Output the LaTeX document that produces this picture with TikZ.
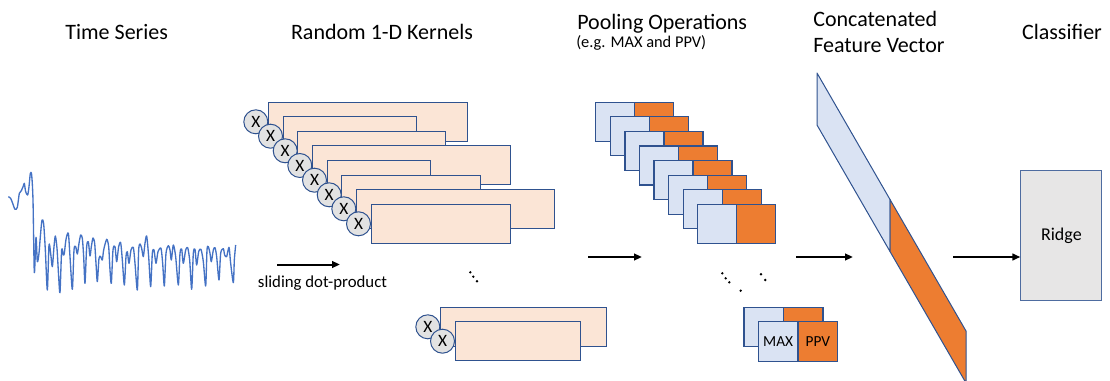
\documentclass[tikz,border=0pt]{standalone}
\usepackage{fontspec}
\setmainfont{Carlito}
\usetikzlibrary{arrows.meta}

\definecolor{edgeblue}{HTML}{2F528F}
\definecolor{kernelfill}{HTML}{FBE5D6}
\definecolor{poolblue}{HTML}{DAE3F3}
\definecolor{poolorange}{HTML}{ED7D31}
\definecolor{dotgray}{HTML}{E2E2E2}
\definecolor{ridgegray}{HTML}{E7E6E6}
\definecolor{seriesblue}{HTML}{4472C4}

\tikzset{
  title/.style={font=\fontsize{16.5}{19}\selectfont, anchor=base, inner sep=0pt},
  subtitle/.style={font=\fontsize{12.3}{14}\selectfont, anchor=base west, inner sep=0pt},
  kernelbox/.style={draw=edgeblue, fill=kernelfill, line width=0.75pt},
  mulnode/.style={circle, draw=edgeblue, fill=dotgray, line width=0.75pt,
    minimum size=18pt, inner sep=0pt, font=\fontsize{13}{14}\selectfont},
  maxbox/.style={draw=edgeblue, fill=poolblue, line width=0.9pt},
  ppvbox/.style={draw=edgeblue, fill=poolorange, line width=0.9pt},
  flow/.style={line width=1.5pt, -{Triangle[length=6pt,width=5pt]}},
  ell/.style={fill=black, circle, inner sep=0pt, minimum size=2pt},
}

\begin{document}
\begin{tikzpicture}[x=0.75pt, y=-0.75pt]
\useasboundingbox (0,0) rectangle (1110,381);
\clip (0,0) rectangle (1110,381);

% stage headings
\node[title] (tTS) at (116.7,40) {Time Series};
\node[title] (tRK) at (382,40) {Random 1-D Kernels};
\node[title, anchor=base west] (tPO) at (577,29.5) {Pooling Operations};
\node[subtitle] (tPOsub) at (576,47.5) {(e.g. MAX and PPV)};
\node[title, anchor=base west] (tCF1) at (813,26.7) {Concatenated};
\node[title, anchor=base west] (tCF2) at (813,52.7) {Feature Vector};
\node[title] (tCL) at (1062,40) {Classifier};

% input time series
\begin{scope}[shift={(0,150)}, xscale=1/3, yscale=1/3]
\draw[seriesblue, line width=1pt, line join=round] plot[smooth, tension=0.45] coordinates {
(25,140) (32,145) (38,160) (45,178) (52,172) (58,130) (64,122) (70,108) (73,100)
(77,125) (83,135) (87,110) (91,70) (95,75) (99,150) (103,368) (108,262) (112,335)
(117,310) (121,260) (126,210) (131,222) (136,300) (142,420) (147,285) (152,310)
(157,350) (162,290) (166,258) (171,295) (176,380) (180,428) (185,300) (190,315)
(193,310) (198,268) (205,250) (210,320) (217,418) (222,300) (227,290) (232,312)
(237,280) (242,255) (247,265) (251,320) (255,400) (260,290) (265,275) (270,318)
(274,290) (279,264) (284,280) (288,340) (292,395) (297,325) (302,320) (307,330)
(311,300) (320,268) (326,290) (330,360) (334,400) (339,300) (345,290) (350,335)
(356,290) (362,278) (367,330) (373,405) (378,320) (382,305) (387,340) (393,300)
(400,292) (405,340) (412,420) (416,300) (420,282) (425,295) (430,320) (435,280)
(440,258) (446,320) (452,410) (457,310) (462,300) (468,340) (474,305) (483,295)
(488,340) (493,408) (498,310) (505,287) (510,300) (514,330) (520,285) (527,320)
(535,405) (540,310) (545,297) (550,340) (557,300) (563,293) (569,330) (575,418)
(580,310) (585,298) (590,345) (596,305) (603,298) (610,335) (617,408) (621,300)
(625,290) (630,310) (634,335) (640,300) (645,293) (650,320) (657,390) (662,310)
(670,296) (674,315) (680,320) (687,292) (692,340) (700,398) (703,330) (707,285)};
\end{scope}

% stack of random kernels, each with its multiplication marker
\foreach \l/\t/\r [count=\i] in {268.3/102.3/467.3, 283/116.7/416, 297.7/131.3/445,
    312.3/146/510.7, 327/160.7/430, 341.7/175.3/480, 356.3/189.3/554.3, 371/204.3/510.7} {
  \draw[kernelbox] (\l,\t) rectangle (\r,\t+39);
  \node[mulnode] (k\i) at (\l-12.5,\t+19.5) {X};
}

% last kernels of the stack
\foreach \l/\t/\r [count=\i] in {440.3/307.3/606.7, 455/321.7/580.3} {
  \draw[kernelbox] (\l,\t) rectangle (\r,\t+39);
  \node[mulnode] (kb\i) at (\l-12.5,\t+19.5) {X};
}
\node[ell] (e1) at (470.3,272.3) {};
\node[ell] (e2) at (473.3,276.7) {};
\node[ell] (e3) at (477,281.3) {};

% pooled feature pairs (MAX | PPV)
\foreach \l/\t in {595.7/102.3, 610.3/116.7, 625/131.3, 639.7/146, 654/160.7,
    668.7/175.3, 683.3/189.3, 697.7/204.3} {
  \draw[maxbox] (\l,\t) rectangle (\l+39,\t+39);
  \draw[ppvbox] (\l+39,\t) rectangle (\l+78,\t+39);
}
\draw[maxbox] (744,307.3) rectangle (783.5,346.8);
\draw[ppvbox] (783.5,307.3) rectangle (823,346.8);
\draw[maxbox] (758.3,321.7) rectangle (798,361.2);
\draw[ppvbox] (798,321.7) rectangle (837.7,361.2);
\node[font=\fontsize{11.5}{12}\selectfont] (lmax) at (778.2,341.5) {MAX};
\node[font=\fontsize{11.5}{12}\selectfont] (lppv) at (817.9,341.5) {PPV};
\node[ell] (p1) at (722.3,273.3) {};
\node[ell] (p2) at (725.7,278.3) {};
\node[ell] (p3) at (729.3,282.3) {};
\node[ell] (p4) at (740.7,290.7) {};
\node[ell] (p5) at (761,274.3) {};
\node[ell] (p6) at (765.3,280) {};

% concatenated feature vector
\draw[edgeblue, fill=poolblue, line width=0.75pt, line join=round]
  (817,73) -- (890,199.5) -- (890,251.5) -- (817,125) -- cycle;
\draw[edgeblue, fill=poolorange, line width=0.75pt, line join=round]
  (890,199.5) -- (966,331) -- (966,383) -- (890,251.5) -- cycle;

% classifier
\node[draw=edgeblue!85!white, fill=ridgegray, line width=0.75pt,
      minimum width=60.8pt, minimum height=97.8pt, inner sep=0pt,
      font=\fontsize{13.5}{15}\selectfont] (ridge) at (1061.4,235.4) {Ridge};

% flow arrows between the stages
\coordinate (a1s) at (277,264.5);  \coordinate (a1e) at (340,264.5);
\coordinate (a2s) at (588,257);  \coordinate (a2e) at (642,257);
\coordinate (a3s) at (796,257);  \coordinate (a3e) at (853,257);
\coordinate (a4s) at (953,257);
\draw[flow] (a1s) -- (a1e);
\draw[flow] (a2s) -- (a2e);
\draw[flow] (a3s) -- (a3e);
\draw[flow] (a4s) -- (ridge.west |- a4s);
\node[font=\fontsize{12.6}{14}\selectfont, anchor=base, inner sep=0pt] (lslide)
  at (322.5,287.7) {sliding dot-product};
\end{tikzpicture}
\end{document}
